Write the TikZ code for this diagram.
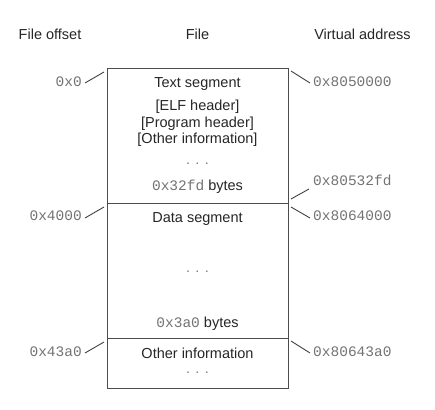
\documentclass[tikz,border=0pt]{standalone}
\usepackage{fontspec}
\setmainfont{Liberation Sans}
\setmonofont{Liberation Mono}
\begin{document}
\begin{tikzpicture}[x=1pt,y=-1pt,
  seg/.style={draw=black!70, line width=0.9pt, minimum width=181pt, inner sep=0pt, outer sep=0pt},
  txt/.style={font=\fontsize{14.5}{16.5}\selectfont, text=black!85, inner sep=0pt, align=center},
  dots/.style={font=\fontsize{14.5}{16.5}\selectfont, text=black!50, inner sep=0pt},
  hex/.style={font=\fontsize{14.5}{16}\ttfamily, text=black!55, inner sep=0pt},
  head/.style={font=\fontsize{14.5}{16}\selectfont, text=black!85, inner sep=0pt},
  tick/.style={draw=black!75, line width=0.9pt}]
\useasboundingbox (0,0) rectangle (435,409);
% headers
\node[head] (h1) at (50,34) {File offset};
\node[head] (h2) at (197.5,34) {File};
\node[head] (h3) at (362.5,34) {Virtual address};
% segments
\node[seg, minimum height=135pt] (text) at (197.5,135.5) {};
\node[seg, minimum height=135pt] (data) at (197.5,270.5) {};
\node[seg, minimum height=50pt] (other) at (197.5,363) {};
% texts in text segment
\node[txt] (t1) at (197.5,84) {Text segment};
\node[txt] (t2) at (197.5,123.5) {{[ELF header]}\\{}{[Program header]}\\{}{[Other information]}};
\node[dots] (t3) at (197.5,164) {. . .};
\node[txt] (t4) at (197.5,187) {{\color{black!55}\ttfamily 0x32fd} bytes};
% data segment
\node[txt] (d1) at (197.5,219) {Data segment};
\node[dots] (d2) at (197.5,272) {. . .};
\node[txt] (d3) at (197.5,324) {{\color{black!55}\ttfamily 0x3a0} bytes};
% other
\node[txt] (o1) at (197.5,353) {Other information};
\node[dots] (o2) at (197.5,373) {. . .};
% left labels
\node[hex, anchor=east] (l1) at (82,82) {0x0};
\node[hex, anchor=east] (l2) at (82,216) {0x4000};
\node[hex, anchor=east] (l3) at (82,352) {0x43a0};
% right labels
\node[hex, anchor=west] (r1) at (313,82) {0x8050000};
\node[hex, anchor=west] (r2) at (313,180) {0x80532fd};
\node[hex, anchor=west] (r3) at (313,216) {0x8064000};
\node[hex, anchor=west] (r4) at (313,352) {0x80643a0};
% ticks
\coordinate (a1) at (85,83); \coordinate (b1) at (104,72);
\coordinate (a2) at (85,218); \coordinate (b2) at (104,207);
\coordinate (a3) at (85,353); \coordinate (b3) at (104,342);
\coordinate (c1) at (291,71); \coordinate (e1) at (310,83);
\coordinate (c2) at (291,199); \coordinate (e2) at (309,189);
\coordinate (c3) at (291,207); \coordinate (e3) at (310,218);
\coordinate (c4) at (291,341); \coordinate (e4) at (310,353);
\draw[tick] (a1) -- (b1);
\draw[tick] (a2) -- (b2);
\draw[tick] (a3) -- (b3);
\draw[tick] (c1) -- (e1);
\draw[tick] (c2) -- (e2);
\draw[tick] (c3) -- (e3);
\draw[tick] (c4) -- (e4);
\end{tikzpicture}
\end{document}
